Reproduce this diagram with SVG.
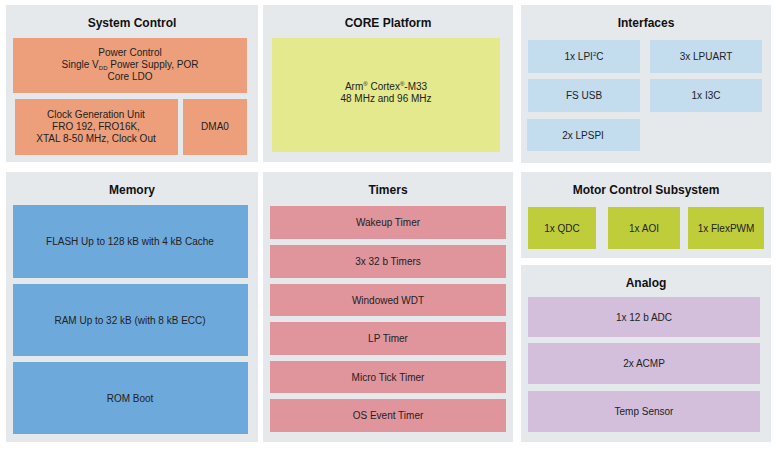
<svg xmlns="http://www.w3.org/2000/svg" width="780" height="450" viewBox="0 0 780 450">
<style>
.p{fill:#e6e9ec}
.t{font-family:"Liberation Sans",Arial,sans-serif;font-size:12px;font-weight:bold;fill:#111;text-anchor:middle}
.l{font-family:"Liberation Sans",Arial,sans-serif;font-size:10px;fill:#222;text-anchor:middle}
.o{fill:#ec9f7a}.y{fill:#e3e98c}.b{fill:#c3dcee}.m{fill:#6ea9dc}.r{fill:#e0949c}.g{fill:#bfcd3a}.v{fill:#d3bfdc}
</style>
<rect width="780" height="450" fill="#fff"/>
<g id="system-control">
<rect class="p" x="6" y="5" width="252" height="157"/>
<text class="t" x="132" y="27">System Control</text>
<rect class="o" x="13" y="38" width="234" height="55"/>
<text class="l" x="130" y="56">Power Control</text>
<text class="l" x="130" y="68">Single V<tspan font-size="6" dy="2">DD</tspan><tspan dy="-2"> Power Supply, POR</tspan></text>
<text class="l" x="130" y="80">Core LDO</text>
<rect class="o" x="15" y="99" width="163" height="56"/>
<text class="l" x="96" y="118">Clock Generation Unit</text>
<text class="l" x="96" y="130">FRO 192, FRO16K,</text>
<text class="l" x="96" y="142">XTAL 8-50 MHz, Clock Out</text>
<rect class="o" x="183" y="99" width="64" height="56"/>
<text class="l" x="215" y="130">DMA0</text>
</g>
<g id="core-platform">
<rect class="p" x="263" y="5" width="250" height="157"/>
<text class="t" x="388" y="27">CORE Platform</text>
<rect class="y" x="272" y="38" width="228" height="114"/>
<text class="l" x="386" y="90">Arm<tspan font-size="6" dy="-4">®</tspan><tspan dy="4"> Cortex</tspan><tspan font-size="6" dy="-4">®</tspan><tspan dy="4">-M33</tspan></text>
<text class="l" x="386" y="102">48 MHz and 96 MHz</text>
</g>
<g id="interfaces">
<rect class="p" x="521" y="5" width="250" height="158"/>
<text class="t" x="646" y="27">Interfaces</text>
<rect class="b" x="528" y="40" width="112" height="33"/><text class="l" x="584" y="60">1x LPI<tspan font-size="6" dy="-4">2</tspan><tspan dy="4">C</tspan></text>
<rect class="b" x="650" y="40" width="112" height="33"/><text class="l" x="706" y="60">3x LPUART</text>
<rect class="b" x="528" y="79" width="112" height="33"/><text class="l" x="584" y="99">FS USB</text>
<rect class="b" x="650" y="79" width="112" height="33"/><text class="l" x="706" y="99">1x I3C</text>
<rect class="b" x="527" y="119" width="113" height="32"/><text class="l" x="583" y="139">2x LPSPI</text>
</g>
<g id="memory">
<rect class="p" x="6" y="172" width="252" height="270"/>
<text class="t" x="132" y="194">Memory</text>
<rect class="m" x="13" y="205" width="235" height="73"/><text class="l" x="130" y="245">FLASH Up to 128 kB with 4 kB Cache</text>
<rect class="m" x="13" y="284" width="235" height="72"/><text class="l" x="130" y="324">RAM Up to 32 kB (with 8 kB ECC)</text>
<rect class="m" x="13" y="362" width="235" height="72"/><text class="l" x="130" y="402">ROM Boot</text>
</g>
<g id="timers">
<rect class="p" x="263" y="172" width="250" height="270"/>
<text class="t" x="388" y="194">Timers</text>
<rect class="r" x="270" y="206" width="236" height="33"/><text class="l" x="388" y="226">Wakeup Timer</text>
<rect class="r" x="270" y="245" width="236" height="33"/><text class="l" x="388" y="265">3x 32 b Timers</text>
<rect class="r" x="270" y="284" width="236" height="32"/><text class="l" x="388" y="304">Windowed WDT</text>
<rect class="r" x="270" y="322" width="236" height="33"/><text class="l" x="388" y="342">LP Timer</text>
<rect class="r" x="270" y="361" width="236" height="32"/><text class="l" x="388" y="381">Micro Tick Timer</text>
<rect class="r" x="270" y="399" width="236" height="33"/><text class="l" x="388" y="419">OS Event Timer</text>
</g>
<g id="motor-control">
<rect class="p" x="521" y="172" width="250" height="86"/>
<text class="t" x="646" y="194">Motor Control Subsystem</text>
<rect class="g" x="528" y="207" width="68" height="42"/><text class="l" x="562" y="232">1x QDC</text>
<rect class="g" x="608" y="207" width="72" height="42"/><text class="l" x="644" y="232">1x AOI</text>
<rect class="g" x="688" y="207" width="76" height="42"/><text class="l" x="726" y="232">1x FlexPWM</text>
</g>
<g id="analog">
<rect class="p" x="521" y="265" width="250" height="177"/>
<text class="t" x="646" y="287">Analog</text>
<rect class="v" x="528" y="297" width="232" height="40"/><text class="l" x="644" y="321">1x 12 b ADC</text>
<rect class="v" x="528" y="343" width="232" height="41"/><text class="l" x="644" y="367">2x ACMP</text>
<rect class="v" x="528" y="391" width="232" height="41"/><text class="l" x="644" y="415">Temp Sensor</text>
</g>
<g id="connectors"/>
</svg>
